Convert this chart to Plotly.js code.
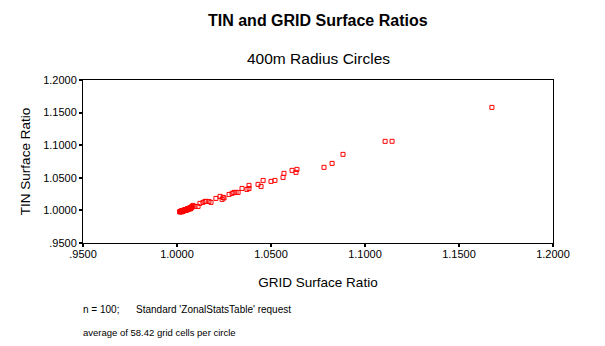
<!DOCTYPE html>
<html>
<head>
<meta charset="utf-8">
<script src="https://cdn.plot.ly/plotly-3.0.1.min.js"></script>
<style>html,body{margin:0;padding:0;background:#fff;}#chart{width:605px;height:346px;}</style>
</head>
<body>
<div id="chart"></div>
<script>
// GRID surface ratio (x) and TIN surface ratio (y)
var gridOuter = [1.1675,1.1107,1.1144,1.0883,1.0825,1.0782,1.0638,1.0633,1.0612,1.0569,1.0564,1.0521,1.0500,1.0458,1.0447,1.0431,1.0383,1.0383,1.0372,1.0346,1.0303,1.0314,1.0325,1.0293,1.0277,1.0229,1.0245,1.0250,1.0240,1.0207,1.0154,1.0170,1.0181,1.0122,1.0138,1.0149,1.0085,1.0096,1.0112];
var tinOuter  = [1.1580,1.1059,1.1060,1.0859,1.0721,1.0660,1.0629,1.0583,1.0614,1.0568,1.0506,1.0460,1.0445,1.0460,1.0368,1.0399,1.0384,1.0337,1.0322,1.0337,1.0276,1.0276,1.0276,1.0261,1.0245,1.0215,1.0200,1.0190,1.0169,1.0184,1.0138,1.0138,1.0123,1.0108,1.0123,1.0138,1.0077,1.0061,1.0061];
var gridCluster = [1.0014,1.0016,1.0017,1.0019,1.0020,1.0021,1.0023,1.0024,1.0025,1.0026,1.0028,1.0029,1.0030,1.0031,1.0033,1.0034,1.0035,1.0036,1.0038,1.0039,1.0040,1.0041,1.0043,1.0044,1.0045,1.0046,1.0048,1.0049,1.0050,1.0051,1.0053,1.0054,1.0055,1.0056,1.0058,1.0059,1.0060,1.0061,1.0063,1.0064,1.0065,1.0066,1.0068,1.0069,1.0070,1.0071,1.0073,1.0074,1.0075,1.0076,1.0078,1.0079,1.0080,1.0022,1.0032,1.0042,1.0052,1.0062,1.0072,1.0027,1.0057];
var tinCluster  = [0.9980,0.9976,0.9984,0.9979,0.9986,0.9981,0.9988,0.9983,0.9990,0.9985,0.9993,0.9988,0.9995,0.9990,0.9998,0.9993,1.0000,0.9995,1.0003,0.9998,1.0005,1.0000,1.0008,1.0003,1.0010,1.0005,1.0013,1.0008,1.0015,1.0010,1.0018,1.0013,1.0020,1.0015,1.0023,1.0018,1.0025,1.0020,1.0028,1.0023,1.0031,1.0026,1.0034,1.0029,1.0037,1.0032,1.0040,1.0035,1.0045,1.0040,1.0055,1.0048,1.0062,0.9992,0.9985,1.0012,1.0004,1.0032,1.0024,0.9978,1.0029];

var tickVals = [0.95,1.0,1.05,1.1,1.15,1.2];
var tickText = ['.9500','1.0000','1.0500','1.1000','1.1500','1.2000'];

var gridRatio = gridOuter.concat(gridCluster);
var tinRatio = tinOuter.concat(tinCluster);

var FONT = 'Arial, "Liberation Sans", sans-serif';

var trace = {
  x: gridRatio, y: tinRatio, type: 'scatter', mode: 'markers',
  marker: {symbol: 'square-open', size: 4, color: '#ff0000', line: {width: 1, color: '#ff0000'}},
  hoverinfo: 'x+y', showlegend: false
};

var axisCommon = {
  range: [0.95, 1.2], tickmode: 'array', tickvals: tickVals, ticktext: tickText,
  showgrid: false, zeroline: false, showline: true, linecolor: '#000', linewidth: 1,
  mirror: true, ticks: 'outside', ticklen: 3, tickwidth: 2, tickcolor: '#000',
  tickfont: {family: FONT, size: 11, color: '#000'}
};

var layout = {
  width: 605, height: 346,
  margin: {l: 83, r: 52, t: 80, b: 103},
  paper_bgcolor: '#fff', plot_bgcolor: '#fff',
  font: {family: FONT, color: '#000'},
  xaxis: Object.assign({}, axisCommon, {
    ticklabelstandoff: -2,
    title: {text: 'GRID Surface Ratio', font: {family: FONT, size: 13.5, color: '#000'}, standoff: 18}
  }),
  yaxis: Object.assign({}, axisCommon, {
    title: {text: 'TIN Surface Ratio', font: {family: FONT, size: 13.5, color: '#000'}, standoff: 9}
  }),
  annotations: [
    {text: '<b>TIN and GRID Surface Ratios</b>', xref: 'paper', yref: 'paper', x: 0.5, y: 0, xanchor: 'center', yanchor: 'middle',
     yshift: 243 - 20, showarrow: false, font: {family: FONT, size: 16, color: '#000'}},
    {text: '400m Radius Circles', xref: 'paper', yref: 'paper', x: 0.5, y: 0, xanchor: 'center', yanchor: 'middle',
     yshift: 243 - 58, showarrow: false, font: {family: FONT, size: 15.5, color: '#000'}},
    {text: 'n = 100;', xref: 'paper', yref: 'paper', x: 0, y: 0,
     xanchor: 'left', yanchor: 'middle', xshift: -2, yshift: 243 - 309, showarrow: false, font: {family: FONT, size: 10, color: '#000'}},
    {text: "Standard 'ZonalStatsTable' request", xref: 'paper', yref: 'paper', x: 0, y: 0,
     xanchor: 'left', yanchor: 'middle', xshift: 51, yshift: 243 - 309, showarrow: false, font: {family: FONT, size: 10, color: '#000'}},
    {text: 'average of 58.42 grid cells per circle', xref: 'paper', yref: 'paper', x: 0, y: 0,
     xanchor: 'left', yanchor: 'middle', xshift: -2, yshift: 243 - 332, showarrow: false, font: {family: FONT, size: 9.5, color: '#000'}}
  ]
};

Plotly.newPlot('chart', [trace], layout, {displayModeBar: false, staticPlot: true});
</script>
</body>
</html>
